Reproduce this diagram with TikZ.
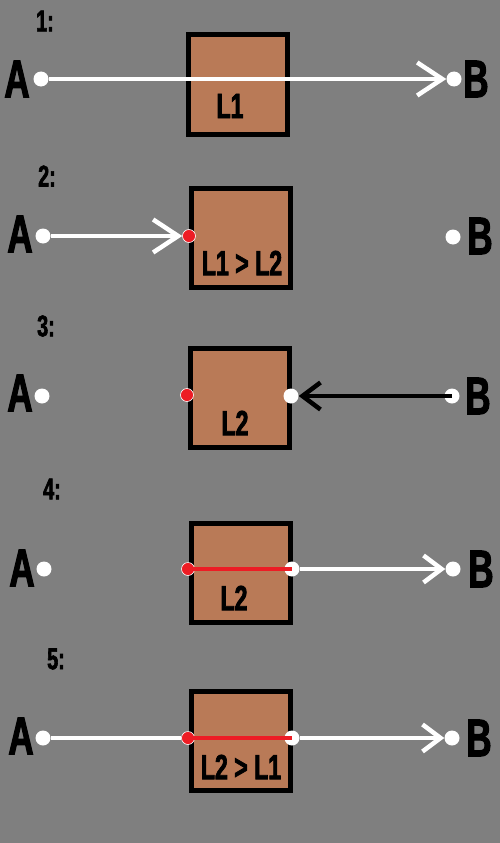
\documentclass[tikz,border=0pt]{standalone}
\usepackage{fontspec}
\usetikzlibrary{arrows.meta}
\newfontfamily\impact{Liberation Sans}[FakeStretch=0.66,FakeBold=2]
\definecolor{bggray}{RGB}{127,127,127}
\definecolor{boxbrown}{RGB}{185,122,87}
\definecolor{paintred}{RGB}{237,28,36}
\tikzset{
  lens/.style={draw=black, line width=5pt, fill=boxbrown, minimum size=99pt, inner sep=0pt},
  enddot/.style={circle, fill=white, minimum size=15pt, inner sep=0pt},
  hitdot/.style={circle, fill=paintred, draw=white, line width=0.6pt, minimum size=13pt, inner sep=0pt},
  letter/.style={font=\impact\bfseries\fontsize{53}{53}\selectfont, inner sep=0pt},
  stage/.style={font=\impact\bfseries\fontsize{30}{30}\selectfont, inner sep=0pt},
  caption/.style={font=\impact\bfseries\fontsize{35}{35}\selectfont, inner sep=0pt},
  ray/.style={line width=4.5pt},
  bigbarb/.style={-{Straight Barb[length=25pt, width=33pt]}},
  smallbarb/.style={-{Straight Barb[length=18pt, width=27pt]}}
}
\begin{document}
\begin{tikzpicture}[x=1pt,y=-1pt]
        
        \fill[bggray] (0,0) rectangle (500,843);
        \useasboundingbox (0,0) rectangle (500,843);
        
        % 1
        \node[stage] (n1) at (45,21) {1:};
        \node[lens] (box1) at (237.5,84.5) {};
        \node[caption] (t1) at (230,106) {L1};
        \node[letter] (la1) at (17,79) {A};
        \node[letter] (lb1) at (476,79) {B};
        \node[enddot] (a1) at (41,79) {};
        \node[enddot] (b1) at (454,79) {};
        \draw[ray,white,bigbarb] (a1) -- (b1);
        
        % 2
        \node[stage] (n2) at (47,176) {2:};
        \node[lens] (box2) at (241,238) {};
        \node[caption] (t2) at (242,263) {L1 > L2};
        \node[letter] (la2) at (20,234) {A};
        \node[letter] (lb2) at (480,236) {B};
        \node[enddot] (a2) at (43,236) {};
        \node[enddot] (b2) at (453,237) {};
        \node[hitdot] (r2) at (189,236) {};
        \draw[ray,white,bigbarb] (a2) -- (r2);
        
        % 3
        \node[stage] (n3) at (46,326) {3:};
        \node[lens] (box3) at (239.5,398) {};
        \node[caption] (t3) at (235,423) {L2};
        \node[letter] (la3) at (20,393) {A};
        \node[letter] (lb3) at (478,396) {B};
        \node[enddot] (a3) at (42,396) {};
        \node[enddot] (b3) at (452,396) {};
        \node[hitdot] (r3) at (187,395) {};
        \node[enddot] (w3) at (291,396) {};
        \draw[ray,black,smallbarb] (b3.center) -- (w3);
        
        % 4
        \node[stage] (n4) at (52,489) {4:};
        \node[lens] (box4) at (241,572.5) {};
        \node[caption] (t4) at (234,598) {L2};
        \node[letter] (la4) at (22,568) {A};
        \node[letter] (lb4) at (481,569) {B};
        \node[enddot] (a4) at (44,569) {};
        \node[enddot] (b4) at (453,569) {};
        \node[enddot] (w4) at (292,569) {};
        \node[hitdot] (r4) at (188,569) {};
        \draw[ray,white,smallbarb] (w4) -- (b4);
        \draw[ray,paintred] (r4.center) -- (w4.center);
        
        % 5
        \node[stage] (n5) at (56,659) {5:};
        \node[lens] (box5) at (240.5,740.5) {};
        \node[caption] (t5) at (241,767) {L2 > L1};
        \node[letter] (la5) at (21,736) {A};
        \node[letter] (lb5) at (479,738) {B};
        \node[enddot] (a5) at (43,738) {};
        \node[enddot] (b5) at (452,738) {};
        \node[enddot] (w5) at (292,738) {};
        \node[hitdot] (r5) at (188,738) {};
        \draw[ray,white] (a5) -- (r5);
        \draw[ray,white,smallbarb] (w5) -- (b5);
        \draw[ray,paintred] (r5.center) -- (w5.center);
        
    \end{tikzpicture}
\end{document}
